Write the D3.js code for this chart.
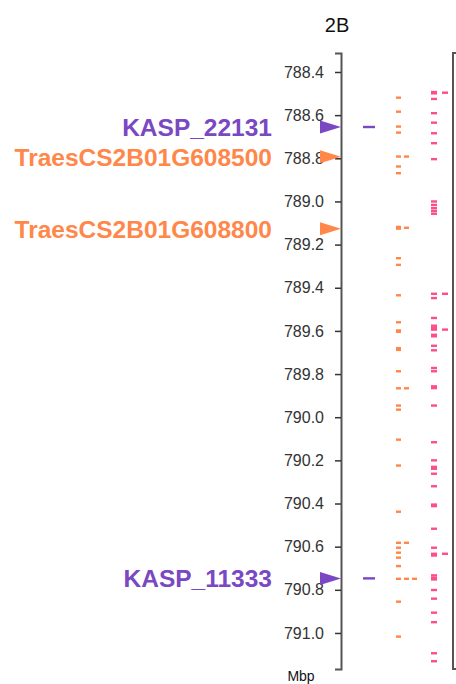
<!DOCTYPE html>
<html>
<head>
<meta charset="utf-8">
<script src="https://cdn.jsdelivr.net/npm/d3@7"></script>
<style>
  html, body { margin: 0; padding: 0; background: #fff; }
  svg { display: block; font-family: "Liberation Sans", Arial, sans-serif; }
</style>
</head>
<body>
<svg id="chart" width="456" height="684"></svg>
<script>
const purple = "#7A48C2";
const orange = "#FF8749";
const pink = "#FF4D8A";
const axisGray = "#555";

// chromosome window (Mbp)
const chromName = "2B";
const yDomain = [788.312, 791.167];
const tickValues = [788.4, 788.6, 788.8, 789.0, 789.2, 789.4, 789.6, 789.8, 790.0, 790.2, 790.4, 790.6, 790.8, 791.0];

// labelled markers (triangles)
const kaspNames = ["KASP_22131", "KASP_11333"];
const kaspPos = [788.655, 790.747];
const geneNames = ["TraesCS2B01G608500", "TraesCS2B01G608800"];
const genePos = [788.793, 789.127];

// feature tracks, one array per stacking lane
const kaspLane = [788.655, 790.747];
const orangeLane1 = [788.519, 788.584, 788.653, 788.681, 788.792, 788.838, 788.869,
  789.118, 789.126, 789.263, 789.294, 789.435, 789.560, 789.598, 789.604, 789.680, 789.688,
  789.787, 789.866, 789.946, 789.965, 790.104, 790.224, 790.438, 790.582, 790.605,
  790.628, 790.651, 790.690, 790.749, 790.855, 791.017];
const orangeLane2 = [788.792, 789.122, 789.866, 790.582, 790.749];
const orangeLane3 = [790.749];
const pinkLane1 = [788.493, 788.499, 788.525, 788.591, 788.635, 788.684, 788.730, 788.804,
  789.000, 789.016, 789.031, 789.044, 789.057, 789.428, 789.448, 789.540, 789.576,
  789.587, 789.594, 789.618, 789.625, 789.669, 789.690, 789.772, 789.787, 789.857,
  789.865, 789.946, 790.116, 790.200, 790.230, 790.239, 790.262, 790.320, 790.405,
  790.412, 790.517, 790.605, 790.633, 790.641, 790.733, 790.744, 790.752, 790.801,
  790.841, 790.906, 790.950, 791.094, 791.131];
const pinkLane2 = [788.496, 789.428, 789.594, 790.633];

const svg = d3.select("#chart");

const axisX = 341;
const y = d3.scaleLinear().domain(yDomain).range([53, 669]);

// lanes: [data, colour, left x, width]
const lanes = [
  [kaspLane, purple, 363, 12],
  [orangeLane1, orange, 396, 5],
  [orangeLane2, orange, 404, 5],
  [orangeLane3, orange, 412, 5],
  [pinkLane1, pink, 431, 6],
  [pinkLane2, pink, 442, 6]
];

// Title
svg.append("text")
  .attr("x", 337)
  .attr("y", 32)
  .attr("text-anchor", "middle")
  .attr("font-size", 20)
  .attr("fill", "#111")
  .text(chromName);

// Left axis
const axis = d3.axisLeft(y)
  .tickValues(tickValues)
  .tickFormat(d3.format(".1f"))
  .tickSize(6)
  .tickPadding(11);

const axisG = svg.append("g")
  .attr("transform", `translate(${axisX},0)`)
  .call(axis);

axisG.select(".domain").attr("stroke", axisGray).attr("stroke-width", 2);
axisG.selectAll(".tick line").attr("stroke", "#333").attr("stroke-width", 1.5);
axisG.selectAll(".tick text")
  .attr("font-size", 16)
  .attr("fill", "#333")
  .attr("font-family", "Liberation Sans, Arial, sans-serif");

// Edge of the next panel
svg.append("path")
  .attr("d", `M459,${y.range()[0]}H453V${y.range()[1]}H459`)
  .attr("fill", "none")
  .attr("stroke", axisGray)
  .attr("stroke-width", 2);

// Units
svg.append("text")
  .attr("x", 301)
  .attr("y", 681)
  .attr("text-anchor", "middle")
  .attr("font-size", 14)
  .attr("fill", "#111")
  .text("Mbp");

// Feature marks
lanes.forEach(([data, color, x0, w]) => {
  svg.append("g")
    .selectAll("rect")
    .data(data)
    .enter()
    .append("rect")
    .attr("x", x0)
    .attr("y", d => y(d) - 1.2)
    .attr("width", w)
    .attr("height", 2.4)
    .attr("fill", color);
});

// Triangles and labels
const markers = kaspNames.map((n, i) => ({ name: n, pos: kaspPos[i], color: purple }))
  .concat(geneNames.map((n, i) => ({ name: n, pos: genePos[i], color: orange })));

const markerG = svg.append("g").selectAll("g")
  .data(markers)
  .enter()
  .append("g")
  .attr("transform", d => `translate(${axisX},${y(d.pos)})`);

markerG.append("path")
  .attr("d", "M-21,-6.5L0,0L-21,6.5Z")
  .attr("fill", d => d.color);

markerG.append("text")
  .attr("x", -69)
  .attr("dy", "0.36em")
  .attr("text-anchor", "end")
  .attr("font-size", 24.5)
  .attr("font-weight", "bold")
  .attr("fill", d => d.color)
  .text(d => d.name);
</script>
</body>
</html>
